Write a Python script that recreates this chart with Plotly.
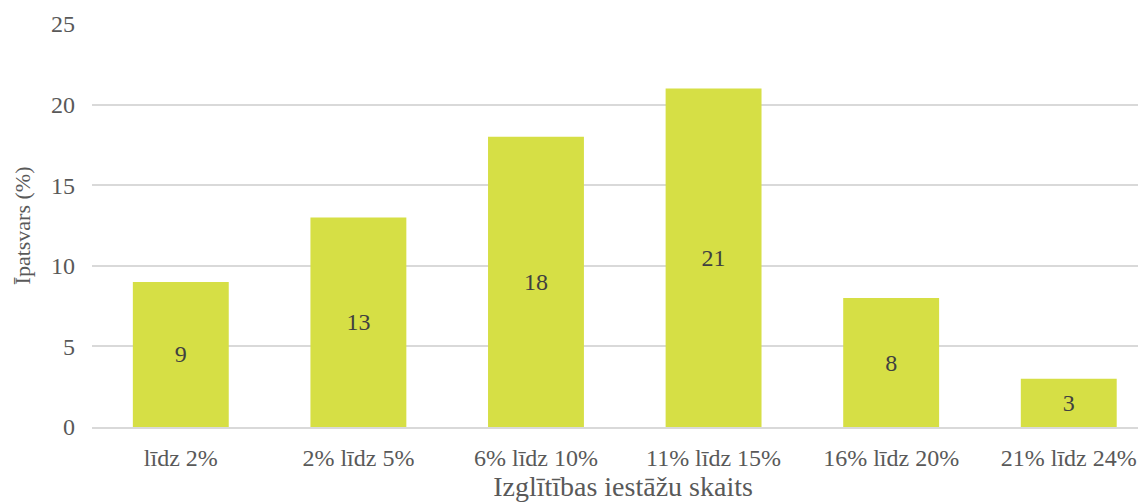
import plotly.graph_objects as go

categories = ["līdz 2%", "2% līdz 5%", "6% līdz 10%", "11% līdz 15%", "16% līdz 20%", "21% līdz 24%"]
values = [9, 13, 18, 21, 8, 3]
y_ticks = [0, 5, 10, 15, 20, 25]

FONT = "Liberation Serif, Times New Roman, serif"

fig = go.Figure(
    go.Bar(
        x=categories,
        y=values,
        text=[str(v) for v in values],
        textposition="inside",
        insidetextanchor="middle",
        textangle=0,
        textfont=dict(family=FONT, size=24, color="#404040"),
        marker=dict(color="#d6df45", line=dict(width=0)),
        width=0.54,
        hoverinfo="skip",
    )
)

fig.update_layout(
    width=1146,
    height=496,
    margin=dict(l=84, r=0, t=16, b=77),
    paper_bgcolor="white",
    plot_bgcolor="white",
    font=dict(family=FONT, size=24, color="#595959"),
    showlegend=False,
)

fig.update_xaxes(
    range=[-0.5, 5.48],
    showgrid=False,
    showline=True,
    linecolor="#d9d9d9",
    linewidth=1.5,
    ticks="",
    ticklabelstandoff=8,
    tickfont=dict(family=FONT, size=24, color="#595959"),
    title=dict(text="Izglītības iestāžu skaits", font=dict(family=FONT, size=28, color="#595959"), standoff=6),
    automargin=False,
)

fig.update_yaxes(
    range=[0, 25],
    tickvals=y_ticks,
    showgrid=True,
    gridcolor="#d9d9d9",
    gridwidth=1.5,
    zeroline=False,
    showline=False,
    ticks="",
    ticklabelstandoff=16,
    tickfont=dict(family=FONT, size=24, color="#595959"),
    title=dict(text="Īpatsvars (%)", font=dict(family=FONT, size=22, color="#595959"), standoff=14),
    automargin=False,
)

fig.write_html("out.html")
